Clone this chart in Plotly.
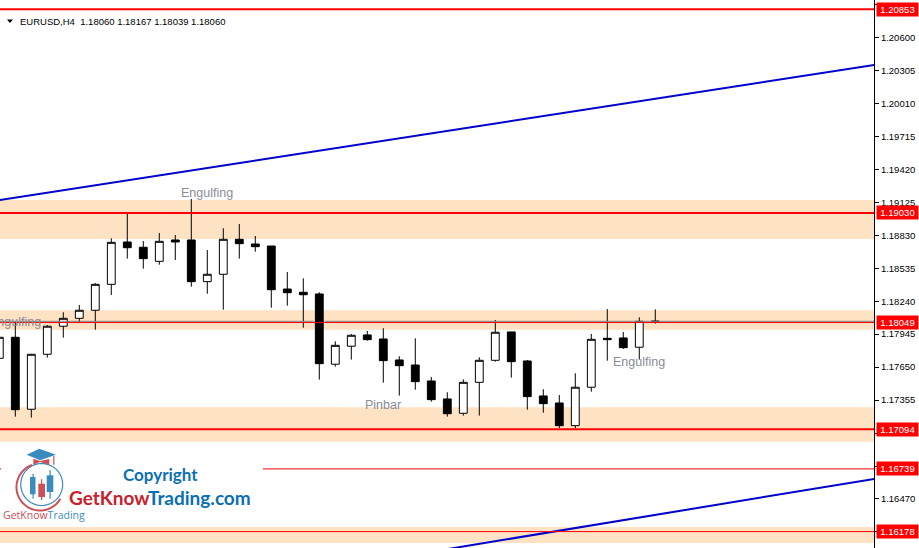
import numpy as np
import plotly.graph_objects as go

# H4 candles, first one is cut by the left edge
opens = [1.17729, 1.17917, 1.17273, 1.17765, 1.18016, 1.18087, 1.18159, 1.18391, 1.18770, 1.18723, 1.18597,
         1.18788, 1.18788, 1.18415, 1.18481, 1.18794, 1.18752, 1.18734, 1.18349, 1.18320, 1.18305, 1.17676,
         1.17837, 1.17938, 1.17902, 1.17714, 1.17669, 1.17526, 1.17365, 1.17237, 1.17514, 1.17711, 1.17965,
         1.17705, 1.17392, 1.17329, 1.17126, 1.17470, 1.17908, 1.17911, 1.17828, 1.18060]
highs = [1.17965, 1.18057, 1.17768, 1.18027, 1.18141, 1.18206, 1.18403, 1.18803, 1.19021, 1.18779, 1.18851,
         1.18833, 1.19155, 1.18698, 1.18893, 1.18931, 1.18824, 1.18734, 1.18501, 1.18445, 1.18320, 1.17881,
         1.17947, 1.17974, 1.17998, 1.17747, 1.17908, 1.17562, 1.17425, 1.17541, 1.17738, 1.18072, 1.17965,
         1.17714, 1.17452, 1.17401, 1.17595, 1.17947, 1.18170, 1.17965, 1.18096, 1.18167]
lows = [1.17696, 1.17207, 1.17198, 1.17735, 1.17914, 1.18045, 1.17985, 1.18296, 1.18621, 1.18531, 1.18567,
        1.18609, 1.18370, 1.18307, 1.18164, 1.18621, 1.18683, 1.18182, 1.18200, 1.18003, 1.17538, 1.17654,
        1.17717, 1.17887, 1.17511, 1.17395, 1.17448, 1.17341, 1.17207, 1.17216, 1.17216, 1.17699, 1.17556,
        1.17269, 1.17242, 1.17105, 1.17105, 1.17430, 1.17708, 1.17812, 1.17717, 1.18039]
closes = [1.17917, 1.17269, 1.17765, 1.18016, 1.18087, 1.18159, 1.18391, 1.18767, 1.18719, 1.18621, 1.18776,
          1.18770, 1.18415, 1.18481, 1.18794, 1.18755, 1.18728, 1.18343, 1.18316, 1.18298, 1.17681, 1.17845,
          1.17935, 1.17896, 1.17708, 1.17663, 1.17520, 1.17359, 1.17233, 1.17514, 1.17711, 1.17962, 1.17699,
          1.17386, 1.17323, 1.17126, 1.17470, 1.17899, 1.17896, 1.17824, 1.18060, 1.18060]
bars = list(range(len(opens)))

tick_vals = [1.20895, 1.20600, 1.20305, 1.20010, 1.19715, 1.19420, 1.19125, 1.18830, 1.18535, 1.18240,
             1.17945, 1.17650, 1.17355, 1.17060, 1.16765, 1.16470, 1.16175]
tick_text = ["%.5f" % t for t in tick_vals]

# support / resistance
level_prices = [1.20853, 1.19030, 1.18049, 1.17094, 1.16739, 1.16178]
level_widths = [2, 2, 1, 2, 1, 1]
bid_price = 1.18060

zone_tops = [1.19146, 1.18160, 1.17291, 1.16219]
zone_bottoms = [1.18797, 1.17985, 1.16982, 1.16076]

trend_up_x = [0, 55]
trend_up_y = [1.19145, 1.20361]
trend_low_x = [28, 55]
trend_low_y = [1.16021, 1.16657]

labels = ["Engulfing", "Engulfing", "Pinbar", "Engulfing"]
label_x = [1, 13, 24, 40]
label_y = [1.18052, 1.19208, 1.17310, 1.17692]

header = "EURUSD,H4  1.18060 1.18167 1.18039 1.18060"

ZONE = "#FDE2C4"
RED = "#FF0000"
BLUE = "#0000CD"
LABEL = "#8A8C98"
LOGO_BLUE = "#3A8CBE"
LOGO_RED = "#CC5058"

W_PLOT = 874.0
H_PLOT = 548.0


def px(x):
    return x / W_PLOT


def py(y):
    return 1 - y / H_PLOT


def arc(cx, cy, r, a0, a1):
    a = np.radians(np.linspace(a0, a1, 40))
    pts = ["%.4f,%.4f" % (px(cx + r * np.cos(t)), py(cy + r * np.sin(t))) for t in a]
    return "M" + " L".join(pts)


def poly(pts):
    return "M" + " L".join("%.4f,%.4f" % (px(x), py(y)) for x, y in pts) + " Z"


def box(x0, y0, x1, y1, color):
    return dict(type="rect", xref="paper", yref="paper", x0=px(x0), x1=px(x1), y0=py(y0), y1=py(y1),
                fillcolor=color, line_width=0, layer="above")


def stroke(path, color, width):
    return dict(type="path", xref="paper", yref="paper", path=path, line=dict(color=color, width=width),
                layer="above")


def fill(path, color):
    return dict(type="path", xref="paper", yref="paper", path=path, fillcolor=color, line_width=0,
                layer="above")


shapes = []
for top, bottom in zip(zone_tops, zone_bottoms):
    shapes.append(dict(type="rect", xref="paper", x0=0, x1=1, y0=bottom, y1=top, fillcolor=ZONE,
                       line_width=0, layer="below"))

# bid line does not show through the black candle
for x0, x1 in [(0, 19.66), (20.34, 55)]:
    shapes.append(dict(type="line", x0=x0, x1=x1, y0=bid_price, y1=bid_price,
                       line=dict(color="#808080", width=1), layer="above"))

for price, w in zip(level_prices, level_widths):
    shapes.append(dict(type="line", xref="paper", x0=0, x1=1, y0=price, y1=price,
                       line=dict(color=RED, width=w), layer="above"))

# logo block
shapes.append(box(1, 442, 263, 527, "white"))
shapes.append(stroke(arc(41.7, 484.5, 21, 0, 360), LOGO_BLUE, 1.2))
shapes.append(stroke(arc(40, 487, 23.5, 30, 250), LOGO_RED, 2))
shapes.append(fill(poly([(26.7, 454.7), (39.3, 448.7), (56, 454.7), (40, 460.3)]), LOGO_BLUE))
shapes.append(fill(poly([(33.3, 458.7), (33.3, 464.7), (40, 462), (49.3, 464.7), (49.3, 459), (40, 461)]), LOGO_RED))
shapes.append(box(53.2, 456, 54.4, 464.7, LOGO_RED))
shapes.append(box(32.5, 473.7, 33.7, 498.7, LOGO_BLUE))
shapes.append(box(30, 477, 35.5, 494.3, LOGO_BLUE))
shapes.append(box(41, 479.3, 42.2, 500, LOGO_RED))
shapes.append(box(38.3, 483.7, 45, 497, LOGO_RED))
shapes.append(box(49.5, 470.3, 50.7, 498.7, LOGO_BLUE))
shapes.append(box(46.7, 475.3, 53.3, 492, LOGO_BLUE))
# small triangle in front of the symbol name
shapes.append(fill(poly([(7, 19.5), (13, 19.5), (10, 23)]), "black"))

annotations = []
for text, x, y in zip(labels, label_x, label_y):
    annotations.append(dict(text=text, x=x, y=y, xanchor="center", yanchor="middle", showarrow=False,
                            font=dict(family="Liberation Sans", size=12.5, color=LABEL)))

for price in level_prices:
    annotations.append(dict(text="%.5f" % price, xref="paper", x=px(876), y=price, xanchor="left", yanchor="middle",
                            showarrow=False, bgcolor=RED, borderpad=0, width=41, height=13, align="center",
                            font=dict(family="Liberation Sans", size=9.5, color="white")))

annotations.append(dict(text=header, xref="paper", yref="paper", x=px(18), y=py(21.5), xanchor="left", yanchor="middle",
                        showarrow=False, font=dict(family="Liberation Sans", size=9.5, color="black")))
annotations.append(dict(text="Copyright", xref="paper", yref="paper", x=px(160), y=py(474), xanchor="center",
                        yanchor="middle", showarrow=False,
                        font=dict(family="Lato", size=17, color="#0B6FB4", weight="bold")))
annotations.append(dict(text="<span style='color:#C8202C'>GetKnow</span><span style='color:#0B6FB4'>Trading.com</span>",
                        xref="paper", yref="paper", x=px(160), y=py(497), xanchor="center", yanchor="middle",
                        showarrow=False, font=dict(family="Lato", size=19, weight="bold")))
annotations.append(dict(text="<span style='color:%s'>GetKnow</span><span style='color:%s'>Trading</span>" % (LOGO_RED, LOGO_BLUE),
                        xref="paper", yref="paper", x=px(1), y=py(515), xanchor="left", yanchor="middle",
                        showarrow=False, font=dict(family="Open Sans", size=10.5)))

fig = go.Figure()
fig.add_trace(go.Scatter(x=trend_up_x, y=trend_up_y, mode="lines", line=dict(color=BLUE, width=2), hoverinfo="skip"))
fig.add_trace(go.Scatter(x=trend_low_x, y=trend_low_y, mode="lines", line=dict(color=BLUE, width=2), hoverinfo="skip"))
fig.add_trace(go.Candlestick(x=bars, open=opens, high=highs, low=lows, close=closes,
                             increasing=dict(line=dict(color="black", width=1), fillcolor="white"),
                             decreasing=dict(line=dict(color="black", width=1), fillcolor="black"),
                             whiskerwidth=0))

fig.update_layout(width=919, height=548, margin=dict(l=0, r=45, t=0, b=0), showlegend=False,
                  plot_bgcolor="white", paper_bgcolor="white", shapes=shapes, annotations=annotations)
fig.update_xaxes(range=[0.044, 54.67], visible=False, rangeslider_visible=False, showgrid=False)
fig.update_yaxes(range=[1.16031, 1.20936], side="right", tickmode="array", tickvals=tick_vals, ticktext=tick_text,
                 showgrid=False, zeroline=False, showline=True, linecolor="black", linewidth=1,
                 ticks="outside", ticklen=4, tickcolor="black", tickwidth=1,
                 tickfont=dict(family="Liberation Sans", size=9.5, color="black"))

fig.write_html("out.html", config=dict(displayModeBar=False),
               post_script="document.body.style.margin='0';document.body.style.overflow='hidden';")
